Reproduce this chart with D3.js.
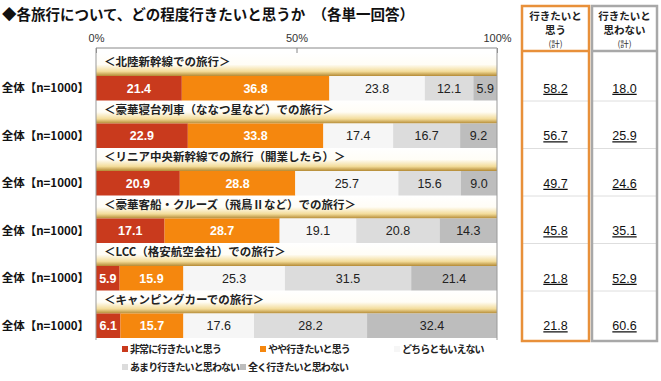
<!DOCTYPE html>
<html>
<head>
<meta charset="utf-8">
<script src="https://cdn.jsdelivr.net/npm/d3@7/dist/d3.min.js"></script>
<style>
    body { margin: 0; background: #fff; }
    svg text { font-family: "Liberation Sans", "Noto Sans CJK JP", sans-serif; }
    .jp { font-family: "Noto Sans CJK JP", sans-serif; }
</style>
</head>
<body>
<div id="chart"></div>
<script>
// chart data
var CATEGORIES = [
    '＜北陸新幹線での旅行＞',
    '＜豪華寝台列車（ななつ星など）での旅行＞',
    '＜リニア中央新幹線での旅行（開業したら）＞',
    '＜豪華客船・クルーズ（飛鳥Ⅱなど）での旅行＞',
    '＜LCC（格安航空会社）での旅行＞',
    '＜キャンピングカーでの旅行＞'
];
var ROW_LABEL = '全体【n=1000】';
var SERIES_NAMES = ['非常に行きたいと思う', 'やや行きたいと思う', 'どちらともいえない', 'あまり行きたいと思わない', '全く行きたいと思わない'];
var VERY_WANT = [21.4, 22.9, 20.9, 17.1, 5.9, 6.1];
var SOMEWHAT_WANT = [36.8, 33.8, 28.8, 28.7, 15.9, 15.7];
var NEUTRAL = [23.8, 17.4, 25.7, 19.1, 25.3, 17.6];
var NOT_MUCH = [12.1, 16.7, 15.6, 20.8, 31.5, 28.2];
var NOT_AT_ALL = [5.9, 9.2, 9.0, 14.3, 21.4, 32.4];
var WANT_TOTAL = ['58.2', '56.7', '49.7', '45.8', '21.8', '21.8'];
var NOT_WANT_TOTAL = ['18.0', '25.9', '24.6', '35.1', '52.9', '60.6'];
var TICKS = [0, 50, 100];

(function () {
    var W = 661, H = 381;
    var COLORS = ['#c93a1d', '#f5870e', '#f6f6f6', '#dcdcdc', '#bdbdbd'];
    var TEXT_COLORS = ['#fff', '#fff', '#222', '#222', '#222'];
    var series = [VERY_WANT, SOMEWHAT_WANT, NEUTRAL, NOT_MUCH, NOT_AT_ALL];

    var svg = d3.select('#chart').append('svg')
        .attr('width', W)
        .attr('height', H);

    var defs = svg.append('defs');
    var grad = defs.append('linearGradient')
        .attr('id', 'bandGrad')
        .attr('x1', 0).attr('y1', 0).attr('x2', 0).attr('y2', 1);
    grad.append('stop').attr('offset', '0%').attr('stop-color', '#ffffff');
    grad.append('stop').attr('offset', '50%').attr('stop-color', '#fffdf6');
    grad.append('stop').attr('offset', '80%').attr('stop-color', '#f3dc9a');
    grad.append('stop').attr('offset', '100%').attr('stop-color', '#b48a34');

    var x = d3.scaleLinear().domain([0, 100]).range([96, 497]);
    var y = d3.scaleBand().domain(d3.range(CATEGORIES.length)).range([53, 338]);
    var bandH = 23;   // label strip above each bar
    var barH = y.bandwidth() - bandH;

    // title
    svg.append('text')
        .attr('class', 'jp')
        .attr('x', 2).attr('y', 20)
        .attr('font-size', 14.5)
        .attr('font-weight', 'bold')
        .attr('fill', '#111')
        .text('◆各旅行について、どの程度行きたいと思うか　（各単一回答）');

    // axis on top
    var axis = d3.axisTop(x)
        .tickValues(TICKS)
        .tickSize(-5)
        .tickPadding(6)
        .tickFormat(function (d) { return d + '%'; });
    var gAxis = svg.append('g')
        .attr('transform', 'translate(0,48)')
        .call(axis);
    gAxis.select('.domain').attr('stroke', '#888').attr('d', 'M' + x(0) + ',0H' + x(100));
    gAxis.selectAll('.tick line').attr('stroke', '#888');
    gAxis.selectAll('.tick text')
        .attr('font-size', 11)
        .attr('fill', '#333')
        .attr('font-family', '"Liberation Sans", sans-serif');

    // stacked segments
    var stacked = [];
    CATEGORIES.forEach(function (c, i) {
        var acc = 0;
        series.forEach(function (s, k) {
            stacked.push({row: i, k: k, x0: acc, x1: acc + s[i], v: s[i]});
            acc += s[i];
        });
    });

    var rows = svg.append('g');

    // label strips
    rows.selectAll('rect.band')
        .data(CATEGORIES)
        .enter().append('rect')
        .attr('class', 'band')
        .attr('x', x(0)).attr('width', x(100) - x(0))
        .attr('y', function (d, i) { return y(i); })
        .attr('height', bandH)
        .attr('fill', 'url(#bandGrad)');

    rows.selectAll('text.cat')
        .data(CATEGORIES)
        .enter().append('text')
        .attr('class', 'cat jp')
        .attr('x', 104)
        .attr('y', function (d, i) { return y(i) + 13; })
        .attr('font-size', 11.5)
        .attr('font-weight', 'bold')
        .attr('fill', '#222')
        .text(function (d) { return d; });

    rows.selectAll('rect.seg')
        .data(stacked)
        .enter().append('rect')
        .attr('class', 'seg')
        .attr('x', function (d) { return x(d.x0); })
        .attr('width', function (d) { return x(d.x1) - x(d.x0); })
        .attr('y', function (d) { return y(d.row) + bandH; })
        .attr('height', barH)
        .attr('fill', function (d) { return COLORS[d.k]; });

    rows.selectAll('text.val')
        .data(stacked)
        .enter().append('text')
        .attr('class', 'val')
        .attr('x', function (d) { return (x(d.x0) + x(d.x1)) / 2; })
        .attr('y', function (d) { return y(d.row) + bandH + barH / 2 + 4.5; })
        .attr('text-anchor', 'middle')
        .attr('font-size', 12.5)
        .attr('font-weight', function (d) { return d.k < 2 ? 'bold' : 'normal'; })
        .attr('fill', function (d) { return TEXT_COLORS[d.k]; })
        .text(function (d) { return d.v.toFixed(1); });

    rows.selectAll('text.rowlbl')
        .data(CATEGORIES)
        .enter().append('text')
        .attr('class', 'rowlbl jp')
        .attr('x', 89)
        .attr('y', function (d, i) { return y(i) + bandH + barH / 2 + 4; })
        .attr('text-anchor', 'end')
        .attr('font-size', 11.5)
        .attr('font-weight', 'bold')
        .attr('fill', '#111')
        .text(ROW_LABEL);

    // frame lines at 0% and 100%
    svg.selectAll('line.edge')
        .data([0, 100])
        .enter().append('line')
        .attr('class', 'edge')
        .attr('x1', function (d) { return x(d); }).attr('x2', function (d) { return x(d); })
        .attr('y1', 48).attr('y2', y.range()[1] + 2)
        .attr('stroke', '#999');

    // legend (two rows, font kept tight like the original)
    var legendPos = [[122, 353], [260, 353], [394, 353], [122, 371], [240, 371]];
    var lg = svg.selectAll('g.legend')
        .data(SERIES_NAMES)
        .enter().append('g')
        .attr('class', 'legend')
        .attr('transform', function (d, i) { return 'translate(' + legendPos[i][0] + ',' + legendPos[i][1] + ')'; });
    lg.append('rect')
        .attr('x', 0).attr('y', -7)
        .attr('width', 6).attr('height', 6)
        .attr('fill', function (d, i) { return COLORS[i]; });
    lg.append('text')
        .attr('class', 'jp')
        .attr('x', 8).attr('y', 0)
        .attr('font-size', 10)
        .attr('letter-spacing', -0.9)
        .attr('font-weight', 'bold')
        .attr('fill', '#222')
        .text(function (d) { return d; });

    // right-hand totals
    var boxes = [
        {x0: 522, x1: 589, stroke: '#e8903a', head: ['行きたいと', '思う'], vals: WANT_TOTAL},
        {x0: 592, x1: 657, stroke: '#a8a8a8', head: ['行きたいと', '思わない'], vals: NOT_WANT_TOTAL}
    ];
    var boxTop = 6, boxBottom = 341, headBottom = 51;
    boxes.forEach(function (b) {
        var cx = (b.x0 + b.x1) / 2;
        var g = svg.append('g');
        // row separators
        g.selectAll('line.sep')
            .data(d3.range(1, CATEGORIES.length))
            .enter().append('line')
            .attr('x1', b.x0).attr('x2', b.x1)
            .attr('y1', function (i) { return y(i) + 0.5; })
            .attr('y2', function (i) { return y(i) + 0.5; })
            .attr('stroke', '#dedede');
        g.append('line')
            .attr('x1', b.x0).attr('x2', b.x1)
            .attr('y1', headBottom).attr('y2', headBottom)
            .attr('stroke', b.stroke).attr('stroke-width', 2.5);
        g.append('rect')
            .attr('x', b.x0).attr('y', boxTop)
            .attr('width', b.x1 - b.x0).attr('height', boxBottom - boxTop)
            .attr('fill', 'none')
            .attr('stroke', b.stroke).attr('stroke-width', 2.5);
        g.selectAll('text.head')
            .data(b.head)
            .enter().append('text')
            .attr('class', 'jp')
            .attr('x', cx)
            .attr('y', function (d, i) { return 20 + i * 14; })
            .attr('text-anchor', 'middle')
            .attr('font-size', 10.5)
            .attr('font-weight', 'bold')
            .attr('fill', '#222')
            .text(function (d) { return d; });
        g.append('text')
            .attr('class', 'jp')
            .attr('x', cx).attr('y', 47)
            .attr('text-anchor', 'middle')
            .attr('font-size', 8.5)
            .attr('fill', '#333')
            .text('(計)');
        g.selectAll('text.tot')
            .data(b.vals)
            .enter().append('text')
            .attr('class', 'tot')
            .attr('x', cx)
            .attr('y', function (d, i) { return y(i) + bandH + barH / 2 + 4.5; })
            .attr('text-anchor', 'middle')
            .attr('font-size', 12.5)
            .attr('text-decoration', 'underline')
            .attr('fill', '#111')
            .text(function (d) { return d; });
    });
})();
</script>
</body>
</html>
